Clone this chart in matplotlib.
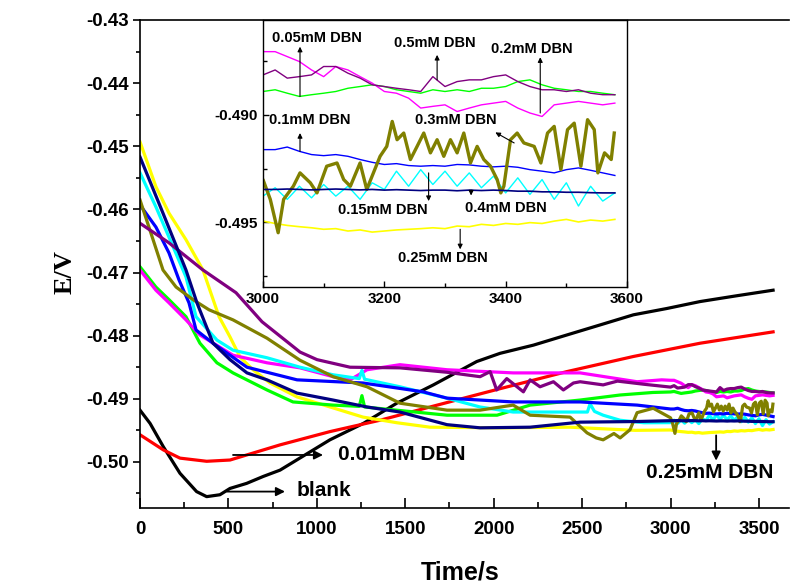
import numpy as np
import matplotlib
matplotlib.use("Agg")
import matplotlib.pyplot as plt
from matplotlib.ticker import MultipleLocator, FormatStrFormatter

plt.rcParams["axes.unicode_minus"] = False
SANS = "Liberation Sans"

# ---- data (time in s, potential in V) ----
T_BLANK = [0, 57, 132, 226, 320, 377, 452, 509, 603, 697, 792, 886, 1074, 1263, 1452,
           1659, 1904, 2036, 2225, 2413, 2602, 2790, 2979, 3167, 3370, 3580]
E_BLANK = [-0.4918, -0.4939, -0.4976, -0.5018, -0.5047, -0.5055, -0.5052, -0.5042, -0.5034,
           -0.5023, -0.5013, -0.4997, -0.4965, -0.4939, -0.4907, -0.4878, -0.4841, -0.4828,
           -0.4815, -0.4799, -0.4783, -0.4767, -0.4757, -0.4746, -0.4737, -0.4728]

T_001 = [0, 132, 226, 377, 509, 792, 1074, 1357, 1640, 2036, 2413, 2790, 3167, 3580]
E_001 = [-0.4957, -0.4981, -0.4994, -0.4999, -0.4997, -0.4973, -0.4952, -0.4934, -0.4913,
         -0.4884, -0.4857, -0.4833, -0.4812, -0.4794]

# tail sampled every 20 s from 3000 to 3580 s (also shown in the inset)
T_TAIL = np.arange(3000, 3581, 20)

T_005 = [0, 90, 164, 260, 339, 526, 718, 905, 1092, 1188, 1284, 1470, 1736, 2110, 2489, 2811, 2950]
E_005 = [-0.4696, -0.4728, -0.4748, -0.4775, -0.4799, -0.4831, -0.4843, -0.4851, -0.4865,
         -0.4870, -0.4854, -0.4846, -0.4854, -0.4859, -0.4859, -0.4873, -0.4870]
E_005_TAIL = [-0.48707, -0.48707, -0.48730, -0.48753, -0.48792, -0.48823, -0.48776, -0.48792,
              -0.48823, -0.48853, -0.48892, -0.48900, -0.48923, -0.48969, -0.48961, -0.48954,
              -0.48985, -0.48969, -0.48954, -0.48946, -0.48938, -0.48969, -0.48992, -0.49008,
              -0.48954, -0.48946, -0.48938, -0.48946, -0.48954, -0.48946]

T_01 = [0, 90, 164, 221, 277, 317, 413, 605, 888, 1261, 1601, 1736, 2110, 2489, 2811]
E_01 = [-0.4593, -0.4628, -0.4669, -0.4712, -0.4748, -0.4791, -0.4812, -0.4850, -0.4870,
        -0.4875, -0.4889, -0.4899, -0.4905, -0.4905, -0.4910]
E_01_TAIL = [-0.49162, -0.49162, -0.49150, -0.49170, -0.49185, -0.49190, -0.49185, -0.49193,
             -0.49208, -0.49221, -0.49231, -0.49227, -0.49236, -0.49239, -0.49236, -0.49239,
             -0.49231, -0.49233, -0.49239, -0.49242, -0.49239, -0.49244, -0.49255, -0.49262,
             -0.49270, -0.49255, -0.49247, -0.49258, -0.49270, -0.49282]

T_015 = [0, 90, 164, 260, 317, 435, 526, 718, 905, 1092, 1240, 1255, 1270, 1470, 1736, 1923,
         2110, 2489, 2530, 2545, 2570, 2619, 2715, 2850]
E_015 = [-0.4542, -0.4596, -0.4644, -0.4707, -0.4770, -0.4807, -0.4823, -0.4835, -0.4850,
         -0.4862, -0.4868, -0.4855, -0.4869, -0.4881, -0.4899, -0.4913, -0.4921, -0.4921,
         -0.4921, -0.4908, -0.4920, -0.4926, -0.4934, -0.4938]
E_015_TAIL = [-0.49378, -0.49339, -0.49393, -0.49332, -0.49386, -0.49324, -0.49378, -0.49332,
              -0.49393, -0.49316, -0.49347, -0.49262, -0.49332, -0.49255, -0.49324, -0.49262,
              -0.49332, -0.49270, -0.49339, -0.49285, -0.49363, -0.49293, -0.49370, -0.49301,
              -0.49393, -0.49316, -0.49424, -0.49332, -0.49401, -0.49363]

T_02 = [0, 90, 164, 260, 339, 435, 526, 718, 865, 1092, 1240, 1255, 1270, 1736, 2019, 2206,
        2489, 2715, 2900]
E_02 = [-0.4691, -0.4723, -0.4743, -0.4770, -0.4812, -0.4843, -0.4859, -0.4886, -0.4905,
        -0.4910, -0.4912, -0.4895, -0.4913, -0.4926, -0.4926, -0.4910, -0.4902, -0.4894, -0.4890]
E_02_TAIL = [-0.48892, -0.48884, -0.48900, -0.48915, -0.48907, -0.48900, -0.48892, -0.48877,
             -0.48869, -0.48861, -0.48869, -0.48884, -0.48892, -0.48900, -0.48884, -0.48892,
             -0.48884, -0.48892, -0.48877, -0.48877, -0.48869, -0.48846, -0.48838, -0.48861,
             -0.48877, -0.48884, -0.48892, -0.48892, -0.48900, -0.48907]

T_025 = [0, 90, 164, 260, 356, 447, 509, 566, 639, 735, 888, 1075, 1261, 1454, 1640, 2036,
         2432, 2800]
E_025 = [-0.4493, -0.4564, -0.4606, -0.4648, -0.4696, -0.4770, -0.4802, -0.4834, -0.4854,
         -0.4875, -0.4897, -0.4913, -0.4929, -0.4938, -0.4945, -0.4946, -0.4945, -0.4950]
E_025_TAIL = [-0.49494, -0.49505, -0.49514, -0.49520, -0.49525, -0.49532, -0.49529, -0.49540,
              -0.49535, -0.49545, -0.49540, -0.49535, -0.49532, -0.49529, -0.49525, -0.49529,
              -0.49517, -0.49520, -0.49509, -0.49514, -0.49505, -0.49509, -0.49501, -0.49505,
              -0.49494, -0.49486, -0.49498, -0.49489, -0.49494, -0.49486]

T_03 = [0, 74, 130, 204, 300, 390, 526, 718, 905, 1092, 1284, 1470, 1736, 1923, 2110, 2206,
        2432, 2528, 2580, 2619, 2680, 2715, 2771, 2811, 2902]
E_03 = [-0.4585, -0.4648, -0.4696, -0.4723, -0.4743, -0.4759, -0.4775, -0.4804, -0.4839,
        -0.4865, -0.4881, -0.4907, -0.4918, -0.4918, -0.4910, -0.4926, -0.4929, -0.4954,
        -0.4962, -0.4965, -0.4955, -0.4962, -0.4949, -0.4922, -0.4915]
# the 0.3 mM trace is much noisier, so its tail is read at a finer step
T_03_TAIL = [3000, 3012, 3025, 3034, 3050, 3061, 3078, 3089, 3105, 3122, 3133, 3144, 3160,
             3171, 3182, 3193, 3204, 3213, 3221, 3232, 3243, 3254, 3265, 3276, 3287, 3298,
             3309, 3320, 3331, 3342, 3353, 3364, 3375, 3386, 3392, 3397, 3408, 3419, 3430,
             3447, 3458, 3469, 3480, 3491, 3502, 3513, 3524, 3535, 3546, 3552, 3563, 3574, 3579]
E_03_TAIL = [-0.49301, -0.49393, -0.49548, -0.49393, -0.49332, -0.49270, -0.49316, -0.49363,
             -0.49239, -0.49224, -0.49301, -0.49332, -0.49224, -0.49347, -0.49270, -0.49193,
             -0.49147, -0.49031, -0.49116, -0.49085, -0.49208, -0.49147, -0.49085, -0.49177,
             -0.49116, -0.49193, -0.49116, -0.49177, -0.49085, -0.49224, -0.49147, -0.49208,
             -0.49239, -0.49301, -0.49363, -0.49332, -0.49116, -0.49085, -0.49131, -0.49147,
             -0.49224, -0.49085, -0.49054, -0.49255, -0.49069, -0.49039, -0.49239, -0.49023,
             -0.49069, -0.49270, -0.49177, -0.49208, -0.49085]

T_04 = [0, 130, 260, 322, 413, 509, 605, 718, 888, 1092, 1284, 1470, 1736, 1923, 2206, 2489, 2811]
E_04 = [-0.4517, -0.4606, -0.4696, -0.4748, -0.4812, -0.4838, -0.4859, -0.4870, -0.4891,
        -0.4902, -0.4913, -0.4921, -0.4941, -0.4946, -0.4945, -0.4937, -0.4936]
E_04_TAIL = [-0.49347, -0.49347, -0.49345, -0.49347, -0.49349, -0.49347, -0.49345, -0.49347,
             -0.49349, -0.49347, -0.49350, -0.49348, -0.49350, -0.49352, -0.49350, -0.49350,
             -0.49353, -0.49350, -0.49352, -0.49350, -0.49352, -0.49355, -0.49355, -0.49358,
             -0.49358, -0.49360, -0.49360, -0.49362, -0.49363, -0.49363]

T_05 = [0, 164, 356, 543, 690, 905, 1001, 1188, 1470, 1736, 1923, 1980, 2017, 2074, 2168,
        2206, 2262, 2338, 2394, 2451, 2489, 2619, 2700, 2850]
E_05 = [-0.4622, -0.4653, -0.4696, -0.4732, -0.4778, -0.4826, -0.4838, -0.4850, -0.4851,
        -0.4858, -0.4865, -0.4857, -0.4886, -0.4868, -0.4889, -0.4870, -0.4881, -0.4873,
        -0.4886, -0.4875, -0.4873, -0.4878, -0.4872, -0.4877]
E_05_TAIL = [-0.48815, -0.48792, -0.48830, -0.48823, -0.48815, -0.48776, -0.48776, -0.48807,
             -0.48830, -0.48861, -0.48869, -0.48877, -0.48884, -0.48892, -0.48823, -0.48869,
             -0.48846, -0.48838, -0.48838, -0.48823, -0.48815, -0.48846, -0.48869, -0.48884,
             -0.48884, -0.48892, -0.48884, -0.48900, -0.48907, -0.48907]

TAIL = list(T_TAIL)
# (label, colour, t, E, inset line width) in drawing order
series = [
    ("blank", "#000000", T_BLANK, E_BLANK, 1.0),
    ("0.01", "#ff0000", T_001, E_001, 1.0),
    ("0.25", "#ffff00", T_025 + TAIL, E_025 + E_025_TAIL, 1.2),
    ("0.2", "#00ff00", T_02 + TAIL, E_02 + E_02_TAIL, 1.0),
    ("0.05", "#ff00ff", T_005 + TAIL, E_005 + E_005_TAIL, 1.0),
    ("0.15", "#00ffff", T_015 + TAIL, E_015 + E_015_TAIL, 1.0),
    ("0.1", "#0000ff", T_01 + TAIL, E_01 + E_01_TAIL, 1.0),
    ("0.3", "#808000", T_03 + T_03_TAIL, E_03 + E_03_TAIL, 2.4),
    ("0.5", "#800080", T_05 + TAIL, E_05 + E_05_TAIL, 1.0),
    ("0.4", "#000080", T_04 + TAIL, E_04 + E_04_TAIL, 1.2),
]

W, H = 790, 587
fig = plt.figure(figsize=(W / 100, H / 100), dpi=100)
ax = fig.add_axes([140 / W, 1 - 508 / H, (789 - 140) / W, (508 - 20) / H])

for name, col, t, e, _ in series:
    ax.plot(t, e, color=col, lw=2.3, solid_joinstyle="round")

ax.set_xlim(0, 3670)
ax.set_ylim(-0.5073, -0.43)
ax.xaxis.set_major_locator(MultipleLocator(500))
ax.xaxis.set_minor_locator(MultipleLocator(250))
ax.yaxis.set_major_locator(MultipleLocator(0.01))
ax.yaxis.set_minor_locator(MultipleLocator(0.005))
ax.yaxis.set_major_formatter(FormatStrFormatter("%.2f"))
ax.tick_params(axis="x", which="both", direction="in", labelsize=13.5, pad=9)
ax.tick_params(axis="x", which="major", length=7, width=1.2)
ax.tick_params(axis="x", which="minor", length=4, width=1.2)
ax.tick_params(axis="y", which="both", direction="out", labelsize=13.5, pad=3)
ax.tick_params(axis="y", which="major", length=5, width=1.2)
ax.tick_params(axis="y", which="minor", length=3, width=1.2)
for lab in ax.get_xticklabels() + ax.get_yticklabels():
    lab.set_fontfamily(SANS)
    lab.set_fontweight("bold")
for s in ["left", "bottom", "top"]:
    ax.spines[s].set_linewidth(1.2)
ax.spines["right"].set_visible(False)

arrow_kw = dict(arrowstyle="-|>", color="black", lw=1.3, mutation_scale=13, shrinkA=0, shrinkB=0)
ax.annotate("", xy=(1035, -0.4989), xytext=(526, -0.4989), arrowprops=arrow_kw)
ax.text(1120, -0.4989, "0.01mM DBN", fontsize=15, fontweight="bold", family=SANS,
        ha="left", va="center")
ax.annotate("", xy=(820, -0.5047), xytext=(492, -0.5047), arrowprops=arrow_kw)
ax.text(888, -0.5045, "blank", fontsize=15, fontweight="bold", family=SANS,
        ha="left", va="center")
ax.annotate("", xy=(3258, -0.4998), xytext=(3258, -0.4958), arrowprops=arrow_kw)
ax.text(3580, -0.5016, "0.25mM DBN", fontsize=15, fontweight="bold", family=SANS,
        ha="right", va="center")

fig.text(65 / W, 1 - 272 / H, "E/V", rotation=90, fontsize=19, fontweight="bold",
         family="Liberation Serif", ha="center", va="center")
fig.text(460 / W, 1 - 573 / H, "Time/s", fontsize=18, fontweight="bold", family=SANS,
         ha="center", va="center")

# ---- inset ----
ins = fig.add_axes([263 / W, 1 - 287 / H, (627 - 263) / W, (287 - 20) / H])
for name, col, t, e, lw in series:
    ins.plot(t, e, color=col, lw=lw)
ins.set_xlim(3000, 3600)
ins.set_ylim(-0.4980, -0.4856)
ins.xaxis.set_major_locator(MultipleLocator(200))
ins.xaxis.set_minor_locator(MultipleLocator(100))
ins.set_yticks([-0.495, -0.490])
ins.yaxis.set_minor_locator(MultipleLocator(0.0025))
ins.yaxis.set_major_formatter(FormatStrFormatter("%.3f"))
ins.tick_params(which="both", direction="in", labelsize=11, width=1.0)
ins.tick_params(which="major", length=4)
ins.tick_params(which="minor", length=3)
for lab in ins.get_xticklabels() + ins.get_yticklabels():
    lab.set_fontfamily(SANS)
    lab.set_fontweight("bold")
for s in ins.spines.values():
    s.set_linewidth(1.0)

small_kw = dict(arrowstyle="-|>", color="black", lw=0.8, mutation_scale=7, shrinkA=0, shrinkB=0)
inset_labels = [
    ("0.05mM DBN", 3089, -0.48645, 3061, -0.48915, -0.48684),
    ("0.5mM DBN", 3283, -0.48668, 3287, -0.48838, -0.48722),
    ("0.2mM DBN", 3443, -0.48696, 3457, -0.48992, -0.48733),
    ("0.1mM DBN", 3077, -0.49026, 3061, -0.49170, -0.49085),
    ("0.15mM DBN", 3197, -0.49443, 3273, -0.49270, -0.49401),
    ("0.4mM DBN", 3401, -0.49432, 3343, -0.49350, -0.49375),
    ("0.25mM DBN", 3296, -0.49663, 3325, -0.49532, -0.49625),
]
for txt, tx, ty, ax_x, y0, y1 in inset_labels:
    ins.text(tx, ty, txt, fontsize=10.5, fontweight="bold", family=SANS, ha="center", va="center")
    ins.annotate("", xy=(ax_x, y1), xytext=(ax_x, y0), arrowprops=small_kw)
ins.text(3318, -0.49026, "0.3mM DBN", fontsize=10.5, fontweight="bold", family=SANS,
         ha="center", va="center")
ins.annotate("", xy=(3383, -0.49082), xytext=(3414, -0.49131), arrowprops=small_kw)

fig.savefig("out.png", dpi=100, facecolor="white")
